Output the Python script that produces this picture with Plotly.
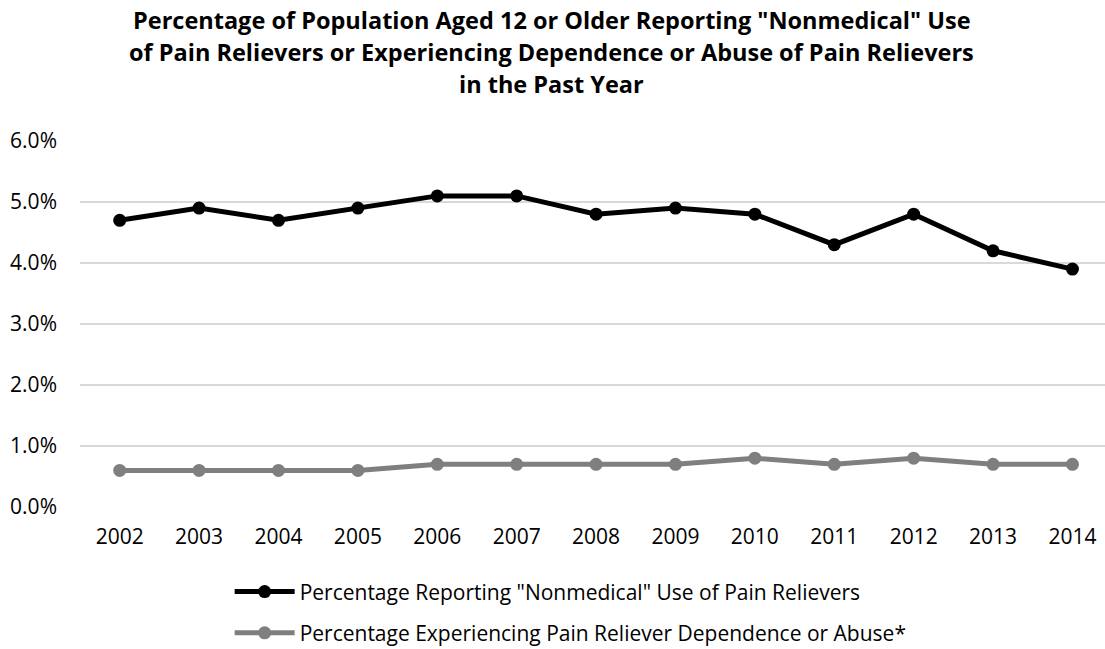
import plotly.graph_objects as go

years = [2002, 2003, 2004, 2005, 2006, 2007, 2008, 2009, 2010, 2011, 2012, 2013, 2014]
nonmedical_use = [4.7, 4.9, 4.7, 4.9, 5.1, 5.1, 4.8, 4.9, 4.8, 4.3, 4.8, 4.2, 3.9]
dependence_abuse = [0.6, 0.6, 0.6, 0.6, 0.7, 0.7, 0.7, 0.7, 0.8, 0.7, 0.8, 0.7, 0.7]
y_ticks = [0, 1, 2, 3, 4, 5, 6]
y_tick_labels = ["0.0%", "1.0%", "2.0%", "3.0%", "4.0%", "5.0%", "6.0%"]

series_names = [
    'Percentage Reporting "Nonmedical" Use of Pain Relievers',
    'Percentage Experiencing Pain Reliever Dependence or Abuse*',
]
title_lines = [
    'Percentage of Population Aged 12 or Older Reporting "Nonmedical" Use',
    'of Pain Relievers or Experiencing Dependence or Abuse of Pain Relievers',
    'in the Past Year',
]

FONT = "Open Sans"

fig = go.Figure()
fig.add_trace(go.Scatter(
    x=years, y=nonmedical_use, name=series_names[0], legendgroup="a",
    mode="lines+markers",
    line=dict(color="#000000", width=5),
    marker=dict(color="#000000", size=13),
))
fig.add_trace(go.Scatter(
    x=years, y=dependence_abuse, name=series_names[1], legendgroup="b",
    mode="lines+markers",
    line=dict(color="#7f7f7f", width=5),
    marker=dict(color="#7f7f7f", size=13),
))

# chart title: one centred annotation per line for tight control of spacing
title_y = [1.331, 1.244, 1.157]
for line, ty in zip(title_lines, title_y):
    fig.add_annotation(
        text="<b>" + line + "</b>",
        x=0.460, xref="paper", xanchor="center",
        y=ty, yref="paper", yanchor="middle",
        showarrow=False, align="center",
        font=dict(family=FONT, size=23.5, color="#000000"),
    )

fig.update_layout(
    width=1105, height=649,
    margin=dict(l=80, r=0, t=141, b=142, autoexpand=False),
    paper_bgcolor="white", plot_bgcolor="white",
    font=dict(family=FONT, size=21, color="#000000"),
    xaxis=dict(
        range=[2001.5, 2014.41],
        tickmode="array", tickvals=years, ticktext=[str(y) for y in years],
        showgrid=False, zeroline=False, showline=False, ticks="",
        ticklabelstandoff=15, fixedrange=True,
    ),
    yaxis=dict(
        range=[0, 6],
        tickmode="array", tickvals=y_ticks, ticktext=y_tick_labels,
        showgrid=True, gridcolor="#d9d9d9", gridwidth=1.5,
        zeroline=False, showline=False, ticks="",
        ticklabelstandoff=22, fixedrange=True,
    ),
    showlegend=True,
    legend=dict(
        orientation="v", x=0.146, xanchor="left", y=-0.176, yanchor="top",
        font=dict(family=FONT, size=21), tracegroupgap=11, itemwidth=60,
        bgcolor="rgba(0,0,0,0)",
    ),
)

fig.write_html("out.html")
